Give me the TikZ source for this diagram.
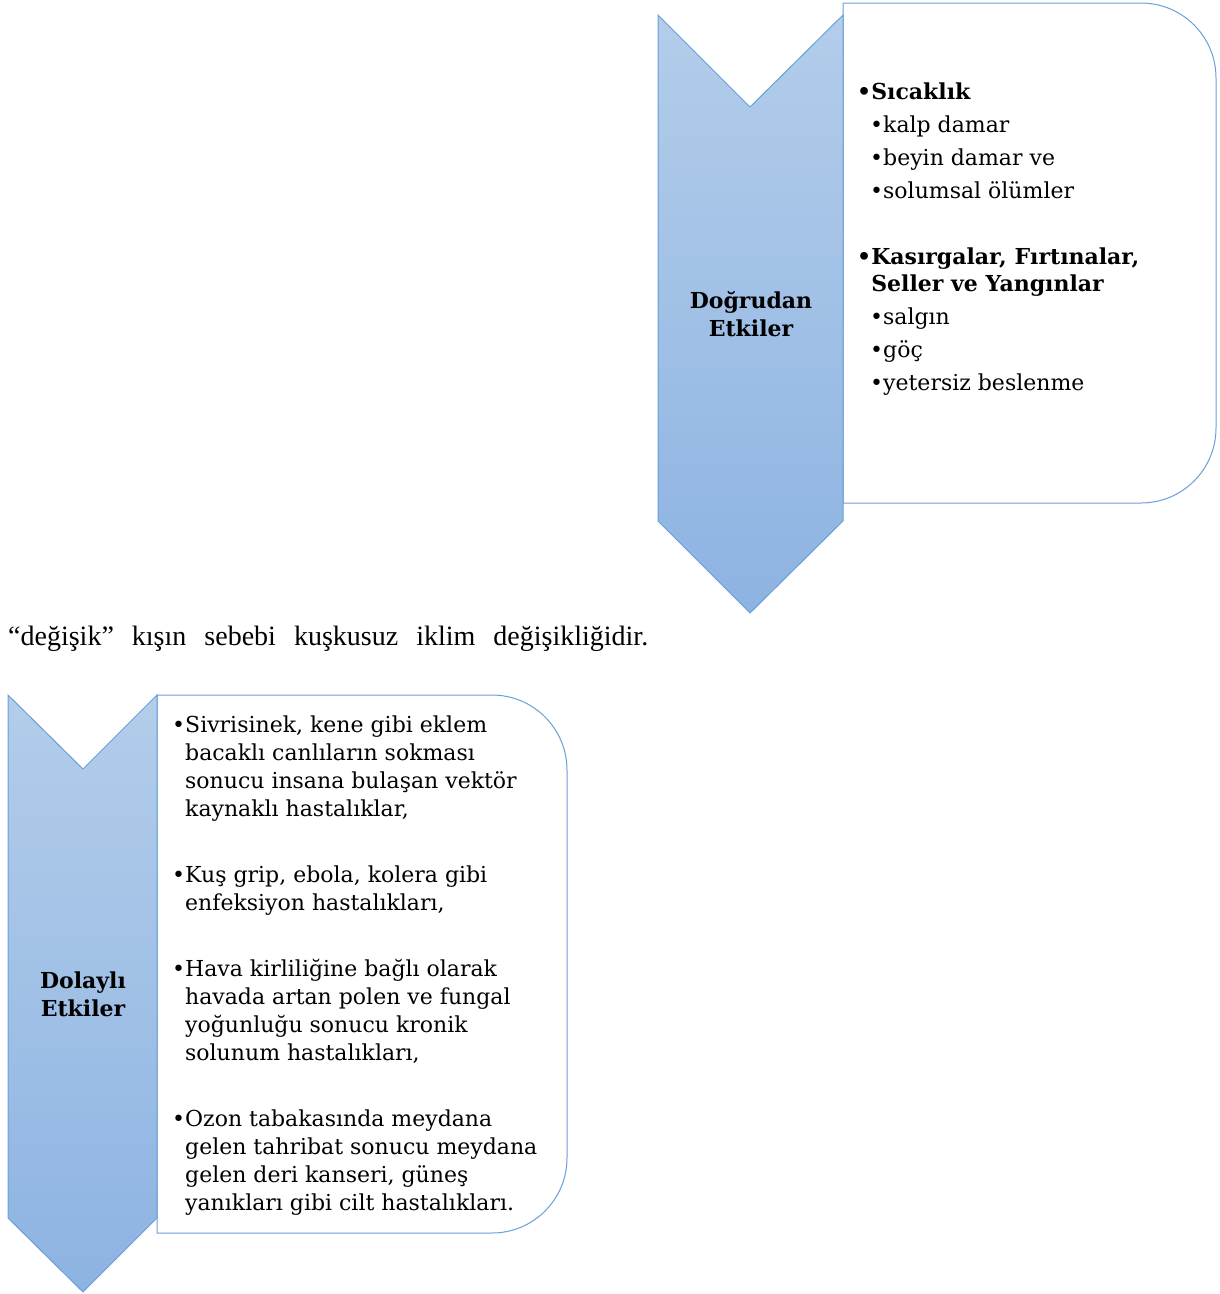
\documentclass[tikz,border=0pt]{standalone}
\usepackage{fontspec}
\setmainfont{DejaVu Serif}
\newfontfamily\garafont{Liberation Serif}
\definecolor{chevtop}{HTML}{B3CDEA}
\definecolor{chevbot}{HTML}{8DB3E2}
\definecolor{edgeblue}{HTML}{6A9FD8}
\newcommand\Ln[1]{\hbox{#1}}
\newcommand\Ind{\hphantom{•}}
\tikzset{
  chevron/.style={top color=chevtop, bottom color=chevbot, draw=edgeblue, line width=1pt},
  listbox/.style={draw=edgeblue, fill=white, line width=1pt},
  bigtxt/.style={anchor=base west, inner sep=0pt, font=\fontsize{22}{33}\selectfont},
  boldtxt/.style={anchor=base west, inner sep=0pt, font=\fontsize{22}{27.5}\selectfont\bfseries},
  smalltxt/.style={anchor=base west, inner sep=0pt, font=\fontsize{22}{28}\selectfont},
  chevlabel/.style={inner sep=0pt, align=center, font=\fontsize{22}{28}\selectfont\bfseries},
}
\begin{document}
\begin{tikzpicture}[x=1pt,y=-1pt]
\useasboundingbox (0,0) rectangle (1219,1294);
% ---- top group
\draw[listbox] (843,3) -- (1141,3) arc[start angle=-90,end angle=0,radius=75]
  -- (1216,428) arc[start angle=0,end angle=90,radius=75] -- (843,503) -- cycle;
\shade[chevron] (658,15) -- (750,107) -- (843,15) -- (843,521) -- (750,613) -- (658,521) -- cycle;
\node[chevlabel] (dogrudan) at (751,314) {Doğrudan\\Etkiler};
\node[boldtxt] (sicaklik) at (857,99) {•Sıcaklık};
\node[bigtxt] (sicakitems) at (870,132) {\vtop{\Ln{•kalp damar}\Ln{•beyin damar ve}\Ln{•solumsal ölümler}}};
\node[boldtxt] (kasirga) at (857,264) {\vtop{\Ln{•Kasırgalar, Fırtınalar,}\Ln{\Ind Seller ve Yangınlar}}};
\node[bigtxt] (kasitems) at (870,324) {\vtop{\Ln{•salgın}\Ln{•göç}\Ln{•yetersiz beslenme}}};
% ---- sentence
\node[anchor=base west, inner sep=0pt, font=\garafont\fontsize{28}{30}\selectfont] (cumle) at (8,645)
  {\makebox[640pt][s]{“değişik” kışın sebebi kuşkusuz iklim değişikliğidir.}};
% ---- bottom group
\draw[listbox] (157,695) -- (492,695) arc[start angle=-90,end angle=0,radius=75]
  -- (567,1158) arc[start angle=0,end angle=90,radius=75] -- (157,1233) -- cycle;
\shade[chevron] (8,695) -- (83,769) -- (157,695) -- (157,1218) -- (83,1292) -- (8,1218) -- cycle;
\node[chevlabel] (dolayli) at (83,994) {Dolaylı\\Etkiler};
\node[smalltxt] (d1) at (172,732) {\vtop{\Ln{•Sivrisinek, kene gibi eklem}\Ln{\Ind bacaklı canlıların sokması}\Ln{\Ind sonucu insana bulaşan vektör}\Ln{\Ind kaynaklı hastalıklar,}}};
\node[smalltxt] (d2) at (172,882) {\vtop{\Ln{•Kuş grip, ebola, kolera gibi}\Ln{\Ind enfeksiyon hastalıkları,}}};
\node[smalltxt] (d3) at (172,976) {\vtop{\Ln{•Hava kirliliğine bağlı olarak}\Ln{\Ind havada artan polen ve fungal}\Ln{\Ind yoğunluğu sonucu kronik}\Ln{\Ind solunum hastalıkları,}}};
\node[smalltxt] (d4) at (172,1126) {\vtop{\Ln{•Ozon tabakasında meydana}\Ln{\Ind gelen tahribat sonucu meydana}\Ln{\Ind gelen deri kanseri, güneş}\Ln{\Ind yanıkları gibi cilt hastalıkları.}}};
\end{tikzpicture}
\end{document}
